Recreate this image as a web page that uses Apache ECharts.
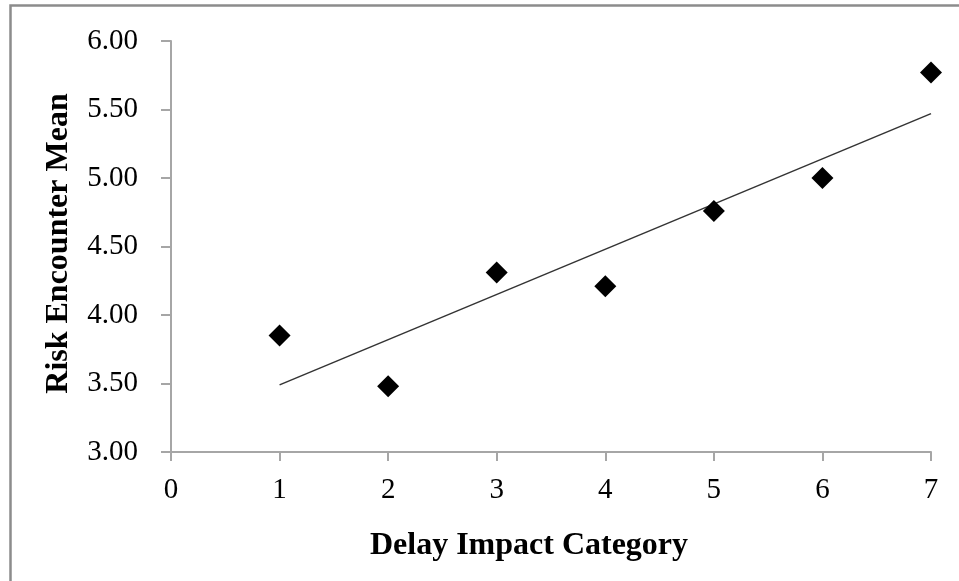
<!DOCTYPE html>
<html>
<head>
<meta charset="utf-8">
<script src="https://cdn.jsdelivr.net/npm/echarts@6/dist/echarts.min.js"></script>
<style>
  html, body { margin: 0; padding: 0; background: #fff; }
  #chart { width: 959px; height: 581px; }
</style>
</head>
<body>
<div id="chart"></div>
<script>
  // values
  var categories = [1, 2, 3, 4, 5, 6, 7];
  var riskMean = [3.85, 3.48, 4.31, 4.21, 4.76, 5.00, 5.77];
  // linear trendline end points
  var trendX = [1, 7];
  var trendY = [3.49, 5.47];

  var serif = "'Liberation Serif', 'Times New Roman', serif";

  var dom = document.getElementById("chart");
  var myChart = echarts.init(dom);

  var points = categories.map(function (c, i) { return [c, riskMean[i]]; });
  var trend = trendX.map(function (x, i) { return [x, trendY[i]]; });

  var option = {
      animation: false,
      backgroundColor: '#fff',
      graphic: [
        {
          type: 'rect',
          left: 8, top: 3,
          shape: { width: 1000, height: 1000 },
          style: { fill: 'none', stroke: '#8c8c8c', lineWidth: 2.5 },
          silent: true
        }
      ],
      grid: {
          left: 171,
          right: 28,
          top: 41,
          bottom: 129
      },
      xAxis: {
          type: 'value',
          min: 0,
          max: 7,
          interval: 1,
          name: 'Delay Impact Category',
          nameLocation: 'middle',
          nameGap: 78,
          nameTextStyle: {
              fontFamily: serif, fontSize: 32, fontWeight: 'bold', color: '#000',
              padding: [0, 44, 0, 0]
          },
          axisLine: { onZero: false, lineStyle: { color: '#a6a6a6', width: 2 } },
          axisTick: { show: true, length: 9, lineStyle: { color: '#a6a6a6', width: 2 } },
          axisLabel: { fontFamily: serif, fontSize: 29, color: '#000', margin: 24 },
          splitLine: { show: false }
      },
      yAxis: {
          type: 'value',
          min: 3,
          max: 6,
          interval: 0.5,
          name: 'Risk Encounter Mean',
          nameLocation: 'middle',
          nameGap: 96,
          nameRotate: 90,
          nameTextStyle: {
              fontFamily: serif, fontSize: 32, fontWeight: 'bold', color: '#000',
              padding: [0, 0, 0, 6]
          },
          axisLine: { show: true, lineStyle: { color: '#a6a6a6', width: 2 } },
          axisTick: { show: true, length: 10, lineStyle: { color: '#a6a6a6', width: 2 } },
          axisLabel: {
              fontFamily: serif, fontSize: 29, color: '#000', margin: 33,
              formatter: function (v) { return v.toFixed(2); }
          },
          splitLine: { show: false }
      },
      series: [
        {
            type: 'line',
            data: trend,
            symbol: 'none',
            lineStyle: { color: '#333', width: 1.5 },
            z: 1
        },
        {
            type: 'scatter',
            data: points,
            symbol: 'diamond',
            symbolSize: 22,
            itemStyle: { color: '#000', opacity: 1 },
            z: 2
        }
      ]
  };
  myChart.setOption(option, true);
</script>
</body>
</html>
